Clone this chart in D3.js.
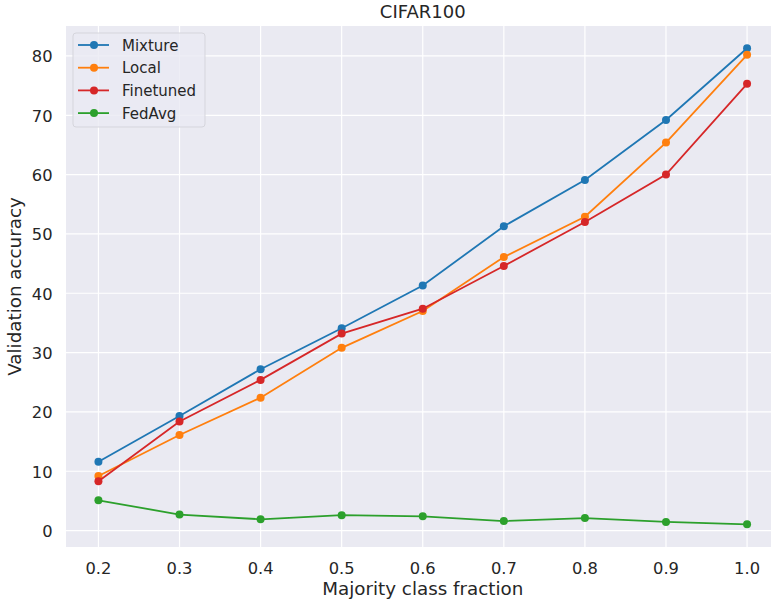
<!DOCTYPE html>
<html>
<head>
<meta charset="utf-8">
<script src="https://cdn.jsdelivr.net/npm/d3@7"></script>
<style>
  body { margin: 0; background: #fff; }
  text { font-family: "DejaVu Sans", sans-serif; fill: #262626; }
</style>
</head>
<body>
<svg class="chart"></svg>
<script>
// data
var fractions = [0.2, 0.3, 0.4, 0.5, 0.6, 0.7, 0.8, 0.9, 1.0];
var mixture   = [11.6, 19.3, 27.2, 34.1, 41.3, 51.3, 59.1, 69.2, 81.3];
var local     = [9.2, 16.1, 22.4, 30.8, 37.0, 46.1, 52.9, 65.4, 80.2];
var finetuned = [8.3, 18.4, 25.4, 33.2, 37.4, 44.6, 52.0, 60.0, 75.3];
var fedavg    = [5.1, 2.7, 1.9, 2.6, 2.4, 1.6, 2.1, 1.45, 1.06];
var seriesNames = ["Mixture", "Local", "Finetuned", "FedAvg"];
var yTicks = [0, 10, 20, 30, 40, 50, 60, 70, 80];

var series = [mixture, local, finetuned, fedavg];
var colors = ["#1f77b4", "#ff7f0e", "#d62728", "#2ca02c"];

const W = 771, H = 600;
const margin = {top: 26, left: 66, right: -8.5, bottom: 53};
var width = W - margin.left - margin.right;
var height = H - margin.top - margin.bottom;

const svg = d3.select('.chart').attr('width', W).attr('height', H);
const chart = svg.append('g')
  .attr('transform', 'translate(' + margin.left + ',' + margin.top + ')');

var x = d3.scaleLinear().domain([0.16, 1.04]).range([0, width]);
var y = d3.scaleLinear().domain([-2.77, 85.05]).range([height, 0]);

chart.append('rect')
  .attr('width', width).attr('height', height)
  .attr('fill', '#eaeaf2');

// grid
chart.selectAll('.gx').data(fractions).enter().append('line')
  .attr('x1', d => x(d)).attr('x2', d => x(d))
  .attr('y1', 0).attr('y2', height)
  .attr('stroke', '#fff').attr('stroke-width', 1.2);
chart.selectAll('.gy').data(yTicks).enter().append('line')
  .attr('y1', d => y(d)).attr('y2', d => y(d))
  .attr('x1', 0).attr('x2', width)
  .attr('stroke', '#fff').attr('stroke-width', 1.2);

// tick labels
chart.selectAll('.xt').data(fractions).enter().append('text')
  .attr('x', d => x(d)).attr('y', height + 27)
  .attr('text-anchor', 'middle').style('font-size', '16.3px')
  .text(d => d.toFixed(1));
chart.selectAll('.yt').data(yTicks).enter().append('text')
  .attr('x', -13.5).attr('y', d => y(d) + 6.5)
  .attr('text-anchor', 'end').style('font-size', '16.3px')
  .text(d => d);

// axis titles
svg.append('text').attr('x', margin.left + width / 2).attr('y', 595)
  .attr('text-anchor', 'middle').style('font-size', '18.3px')
  .text('Majority class fraction');
svg.append('text')
  .attr('transform', 'translate(21,' + (margin.top + height / 2) + ') rotate(-90)')
  .attr('text-anchor', 'middle').style('font-size', '18.3px')
  .text('Validation accuracy');
svg.append('text').attr('x', margin.left + width / 2).attr('y', 18)
  .attr('text-anchor', 'middle').style('font-size', '18px')
  .text('CIFAR100');

// lines
var line = d3.line().x((d, i) => x(fractions[i])).y(d => y(d));
var g = chart.selectAll('.series').data(series).enter().append('g');
g.append('path')
  .attr('d', d => line(d))
  .attr('fill', 'none')
  .attr('stroke', (d, i) => colors[i])
  .attr('stroke-width', 1.8);
g.each(function (d, si) {
  d3.select(this).selectAll('circle').data(d).enter().append('circle')
    .attr('cx', (v, i) => x(fractions[i]))
    .attr('cy', v => y(v))
    .attr('r', 4)
    .attr('fill', colors[si]);
});

// legend
var lg = svg.append('g').attr('transform', 'translate(73,33)');
lg.append('rect').attr('width', 132).attr('height', 94).attr('rx', 3)
  .attr('fill', '#eaeaf2').attr('fill-opacity', 0.8)
  .attr('stroke', '#d5d5dc');
seriesNames.forEach(function (name, i) {
  var yy = 12 + i * 22.7;
  lg.append('line').attr('x1', 5).attr('x2', 36).attr('y1', yy).attr('y2', yy)
    .attr('stroke', colors[i]).attr('stroke-width', 1.8);
  lg.append('circle').attr('cx', 21).attr('cy', yy).attr('r', 4).attr('fill', colors[i]);
  lg.append('text').attr('x', 49).attr('y', yy + 5.5).style('font-size', '15px').text(name);
});
</script>
</body>
</html>
